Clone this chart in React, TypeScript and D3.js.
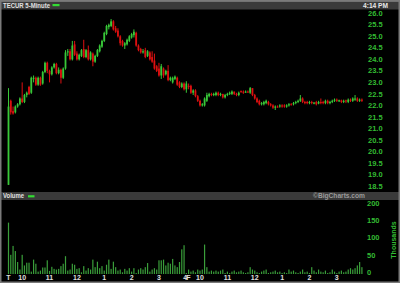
import React from 'react';
import * as d3 from 'd3';

const W = 400;
const H = 283;

// [open, high, low, close] per 5-minute bar, two sessions of 78 bars
const ohlc: [number, number, number, number][] = [
  [18.55, 22.75, 18.55, 21.95], [22.2, 22.25, 21.6, 21.7], [21.75, 21.95, 21.6, 21.65], [21.7, 22.0, 21.65, 21.95],
  [21.95, 22.1, 21.9, 22.05], [22.05, 22.35, 22.0, 22.3], [22.3, 23.0, 22.1, 22.15], [22.15, 22.5, 22.1, 22.45],
  [22.45, 22.6, 22.35, 22.55], [22.8, 22.85, 22.45, 22.5], [22.55, 23.25, 22.5, 23.2], [23.15, 23.3, 23.0, 23.2],
  [23.2, 23.25, 22.85, 22.9], [22.9, 23.25, 22.85, 23.2], [23.2, 23.25, 22.85, 22.9], [22.95, 23.5, 22.9, 23.45],
  [23.45, 23.9, 23.4, 23.85], [23.85, 23.9, 23.4, 23.5], [23.5, 23.55, 23.0, 23.35], [23.35, 23.7, 23.3, 23.65],
  [23.65, 23.85, 23.6, 23.8], [23.8, 23.85, 23.35, 23.4], [23.4, 23.65, 23.35, 23.55], [23.55, 23.6, 22.95, 23.2],
  [23.2, 23.65, 23.15, 23.6], [23.6, 24.4, 23.55, 24.3], [24.3, 24.45, 24.15, 24.35], [24.35, 24.45, 23.95, 24.0],
  [24.0, 24.8, 23.95, 24.6], [24.65, 24.8, 24.15, 24.2], [24.25, 24.35, 23.95, 24.0], [24.0, 24.25, 23.95, 24.2],
  [24.15, 24.45, 24.1, 24.4], [24.45, 24.85, 24.05, 24.1], [24.1, 24.45, 24.05, 24.4], [24.4, 24.6, 23.95, 24.0],
  [24.0, 24.35, 23.95, 24.3], [24.25, 24.3, 23.7, 23.9], [23.9, 24.2, 23.85, 24.15], [24.15, 24.45, 24.1, 24.4],
  [24.35, 24.65, 24.3, 24.6], [24.55, 24.85, 24.5, 24.8], [24.8, 25.2, 24.75, 25.15], [25.1, 25.5, 25.05, 25.45],
  [25.4, 25.55, 25.3, 25.5], [25.45, 25.75, 25.4, 25.65], [25.65, 25.7, 25.25, 25.3], [25.35, 25.45, 25.15, 25.2],
  [25.25, 25.35, 24.95, 25.0], [25.0, 25.05, 24.6, 24.7], [24.8, 24.85, 24.55, 24.6], [24.6, 24.75, 24.45, 24.7],
  [24.65, 24.9, 24.6, 24.85], [24.8, 25.05, 24.75, 25.0], [24.95, 25.15, 24.9, 25.1], [25.05, 25.3, 24.95, 25.2],
  [25.15, 25.2, 24.55, 24.6], [24.6, 24.65, 24.35, 24.4], [24.45, 24.5, 24.25, 24.3], [24.3, 24.45, 24.25, 24.35],
  [24.4, 24.5, 24.05, 24.1], [24.15, 24.4, 24.1, 24.35], [24.3, 24.35, 23.95, 24.0], [24.1, 24.35, 23.85, 23.9],
  [23.95, 24.25, 23.55, 23.6], [23.7, 23.75, 23.45, 23.5], [23.6, 23.85, 23.25, 23.3], [23.3, 23.8, 23.15, 23.7],
  [23.6, 23.65, 23.2, 23.3], [23.35, 23.55, 23.3, 23.5], [23.5, 23.75, 23.05, 23.1], [23.1, 23.25, 23.05, 23.2],
  [23.0, 23.25, 22.95, 23.2], [23.15, 23.3, 23.1, 23.25], [23.2, 23.25, 22.85, 22.9], [23.0, 23.05, 22.75, 22.8],
  [22.8, 23.0, 22.75, 22.95], [22.95, 23.0, 22.65, 22.7],
  // session 2
  [22.7, 23.05, 22.55, 22.95], [22.85, 22.95, 22.7, 22.8], [22.85, 22.9, 22.5, 22.55], [22.55, 22.7, 22.45, 22.65],
  [22.65, 22.7, 22.35, 22.4], [22.4, 22.45, 22.15, 22.2], [22.2, 22.25, 21.95, 22.0], [22.0, 22.1, 21.95, 22.05],
  [22.0, 22.35, 21.95, 22.3], [22.2, 22.55, 22.15, 22.45], [22.4, 22.55, 22.35, 22.5], [22.5, 22.55, 22.4, 22.45],
  [22.45, 22.55, 22.4, 22.5], [22.45, 22.6, 22.4, 22.55], [22.55, 22.6, 22.4, 22.45], [22.45, 22.55, 22.4, 22.5],
  [22.5, 22.5, 22.3, 22.35], [22.35, 22.5, 22.3, 22.45], [22.45, 22.55, 22.4, 22.5], [22.5, 22.6, 22.45, 22.55],
  [22.5, 22.65, 22.45, 22.6], [22.6, 22.6, 22.45, 22.5], [22.5, 22.55, 22.4, 22.45], [22.45, 22.6, 22.4, 22.55],
  [22.62, 22.65, 22.55, 22.58], [22.6, 22.65, 22.5, 22.55], [22.55, 22.65, 22.55, 22.6], [22.6, 22.65, 22.55, 22.58],
  [22.55, 22.8, 22.5, 22.75], [22.75, 22.75, 22.4, 22.45], [22.45, 22.5, 22.25, 22.3], [22.3, 22.35, 22.1, 22.15],
  [22.2, 22.25, 22.0, 22.05], [22.05, 22.15, 22.0, 22.1], [22.05, 22.2, 22.0, 22.15], [22.1, 22.25, 22.05, 22.2],
  [22.15, 22.2, 22.0, 22.05], [22.05, 22.1, 21.95, 22.0], [22.0, 22.05, 21.85, 21.9], [21.9, 22.0, 21.8, 21.95],
  [21.95, 22.0, 21.9, 21.93], [21.95, 22.05, 21.9, 22.0], [22.0, 22.05, 21.9, 21.95], [22.0, 22.05, 21.9, 21.95],
  [21.95, 22.05, 21.9, 22.0], [22.0, 22.1, 21.95, 22.05], [22.05, 22.1, 22.0, 22.03], [22.05, 22.15, 22.0, 22.1],
  [22.1, 22.2, 22.05, 22.15], [22.15, 22.25, 22.1, 22.2], [22.2, 22.45, 22.15, 22.3], [22.3, 22.35, 22.1, 22.15],
  [22.15, 22.2, 22.05, 22.1], [22.15, 22.2, 22.05, 22.1], [22.1, 22.2, 22.05, 22.15], [22.15, 22.2, 22.05, 22.1],
  [22.1, 22.15, 22.05, 22.12], [22.15, 22.2, 22.0, 22.05], [22.08, 22.2, 22.05, 22.15], [22.15, 22.3, 22.05, 22.1],
  [22.15, 22.2, 22.05, 22.1], [22.1, 22.25, 22.05, 22.2], [22.2, 22.25, 22.05, 22.1], [22.1, 22.2, 22.05, 22.15],
  [22.15, 22.25, 22.1, 22.2], [22.2, 22.3, 22.15, 22.25], [22.25, 22.3, 22.15, 22.2], [22.2, 22.25, 22.15, 22.22],
  [22.22, 22.25, 22.1, 22.15], [22.15, 22.25, 22.1, 22.2], [22.22, 22.25, 22.1, 22.17], [22.15, 22.3, 22.1, 22.25],
  [22.25, 22.3, 22.15, 22.2], [22.2, 22.35, 22.15, 22.3], [22.25, 22.45, 22.2, 22.3], [22.3, 22.35, 22.15, 22.2],
  [22.2, 22.3, 22.15, 22.25], [22.25, 22.3, 22.15, 22.2],
];

// volume in thousands
const volume: number[] = [
  150, 56, 82, 67, 35, 13, 56, 25, 33, 33,
  7, 42, 30, 7, 10, 19, 19, 40, 9, 21,
  15, 13, 15, 23, 30, 52, 10, 13, 30, 27,
  15, 17, 5, 23, 10, 17, 13, 42, 20, 36,
  17, 23, 10, 27, 42, 15, 36, 20, 10, 13,
  5, 15, 10, 17, 7, 17, 3, 13, 17, 13,
  20, 32, 7, 13, 17, 13, 40, 40, 42, 25,
  33, 30, 44, 25, 20, 35, 72, 84,
  // session 2
  3, 13, 7, 10, 5, 13,
  10, 13, 86, 20, 7, 10, 7, 10, 7, 10,
  13, 3, 7, 3, 7, 10, 5, 7, 10, 5,
  3, 5, 20, 13, 10, 5, 3, 7, 10, 13,
  3, 5, 7, 10, 5, 7, 3, 5,
  3, 13, 7, 10, 5, 3, 7, 13, 5, 7,
  3, 20, 10, 5, 13, 7, 5, 10, 3, 5,
  13, 7, 3, 7, 10, 5, 7, 13, 17, 13,
  17, 25, 35, 20,
];

const priceTicks = [26.0, 25.5, 25.0, 24.5, 24.0, 23.5, 23.0, 22.5, 22.0, 21.5, 21.0, 20.5, 20.0, 19.5, 19.0, 18.5];
const volTicks = [0, 50, 100, 150, 200];
const timeTickIdx = [0, 6, 18, 30, 42, 54, 66, 78, 84, 96, 108, 120, 132, 144];
const timeTickLabels = ['T', '10', '11', '12', '1', '2', '3', '4F', '10', '11', '12', '1', '2', '3'];

const GREEN = '#38c838';
const RED = '#dd1010';
const VOL = '#3a9e3a';
const AXIS = '#33bb33';
const FONT = 'Liberation Sans, Arial, sans-serif';

export default function App() {
  const n = ohlc.length;
  const x = d3.scaleLinear().domain([0, n - 1]).range([8.5, 361.9]);
  const yP = d3.scaleLinear().domain([18.5, 26]).range([186, 13.3]);
  const yV = d3.scaleLinear().domain([0, 200]).range([274, 205.5]);
  const bw = 1.8;

  return (
    <svg width={W} height={H} style={{ position: 'absolute', left: 0, top: 0, display: 'block' }}>
      <rect x={0} y={0} width={W} height={H} fill="#000" />
      {/* header bar */}
      <rect x={1} y={1} width={398} height={8.5} fill="#3a3a3a" />
      <line x1={1} x2={399} y1={1.5} y2={1.5} stroke="#6a6a6a" strokeWidth={1} />
      <text x={3} y={7.6} fontFamily={FONT} fontSize={7} fontWeight="bold" fill="#e0e0e0" textLength={47} lengthAdjust="spacingAndGlyphs">TECUR 5-Minute</text>
      <rect x={52.5} y={4} width={7} height={2.2} fill="#33dd33" />
      <text x={363} y={7.6} fontFamily={FONT} fontSize={7} fontWeight="bold" fill="#e8e8e8" textLength={25} lengthAdjust="spacingAndGlyphs">4:14 PM</text>

      {/* volume header bar */}
      <rect x={1} y={192} width={398} height={8} fill="#3a3a3a" />
      <text x={3} y={198.4} fontFamily={FONT} fontSize={7} fontWeight="bold" fill="#e0e0e0" textLength={21} lengthAdjust="spacingAndGlyphs">Volume</text>
      <rect x={28} y={195.2} width={6.5} height={2.2} fill="#33dd33" />
      <text x={313} y={198.4} fontFamily={FONT} fontSize={7} fontWeight="bold" fill="#9a9a9a" textLength={52} lengthAdjust="spacingAndGlyphs">©BigCharts.com</text>

      {/* candles */}
      {ohlc.map(([o, h, l, c], i) => {
        const up = c >= o;
        const col = up ? GREEN : RED;
        const cx = x(i);
        const top = yP(Math.max(o, c));
        const bot = yP(Math.min(o, c));
        return (
          <g key={i}>
            <line x1={cx} x2={cx} y1={yP(h)} y2={yP(l)} stroke={col} strokeWidth={1} />
            <rect x={cx - bw / 2} y={top} width={bw} height={Math.max(1, bot - top)} fill={col} />
          </g>
        );
      })}

      {/* price axis labels */}
      {priceTicks.map((p) => (
        <text key={p} x={368} y={yP(p)} dy="0.35em" fontFamily={FONT} fontSize={7.5} fontWeight="bold" fill={AXIS}>
          {p.toFixed(1)}
        </text>
      ))}

      {/* volume bars */}
      {volume.map((v, i) => (
        <rect key={i} x={x(i) - 0.6} y={yV(v)} width={1.2} height={yV(0) - yV(v)} fill={VOL} />
      ))}

      {volTicks.map((v) => (
        <text key={v} x={367} y={yV(v) - 2} dy="0.35em" fontFamily={FONT} fontSize={7.5} fontWeight="bold" fill={AXIS}>
          {v}
        </text>
      ))}
      <text
        transform="translate(394,240) rotate(-90)"
        textAnchor="middle"
        dy="0.35em"
        fontFamily={FONT}
        fontSize={7}
        fontWeight="bold"
        fill={AXIS}
      >
        Thousands
      </text>

      {/* time labels */}
      {timeTickIdx.map((t, k) => (
        <text key={k} x={x(t)} y={279.5} textAnchor="middle" fontFamily={FONT} fontSize={7} fontWeight="bold" fill="#e0e0e0"
          letterSpacing={timeTickLabels[k] === '4F' ? -1 : 0}>
          {timeTickLabels[k]}
        </text>
      ))}

      {/* frame */}
      <rect x={0.75} y={0.75} width={398.5} height={281.5} fill="none" stroke="#7a7a7a" strokeWidth={1.5} />
    </svg>
  );
}
